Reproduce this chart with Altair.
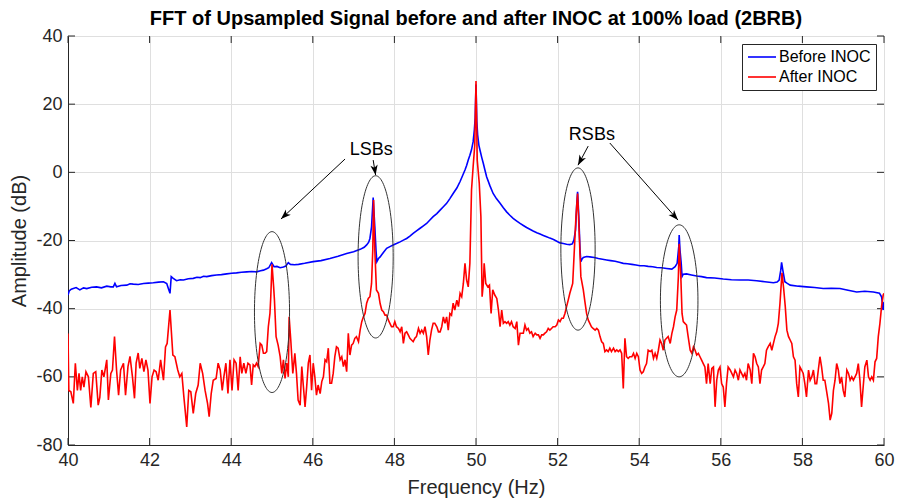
import math
import numpy as np
import pandas as pd
import altair as alt

# ---------------- data ----------------
blue_f = [40.00, 40.03, 40.08, 40.13, 40.20, 40.29, 40.38, 40.46, 40.58, 40.70, 40.82, 40.95, 41.05, 41.11,
          41.15, 41.19, 41.30, 41.44, 41.52, 41.60, 41.72, 41.85, 41.97, 42.09, 42.22, 42.34, 42.42, 42.46,
          42.50, 42.53, 42.58, 42.66, 42.75, 42.83, 42.95, 43.07, 43.16, 43.24, 43.32, 43.40, 43.52, 43.64,
          43.76, 43.89, 44.01, 44.13, 44.25, 44.38, 44.50, 44.62, 44.72, 44.79, 44.87, 44.92, 44.99, 45.05,
          45.12, 45.20, 45.28, 45.34, 45.40, 45.45, 45.55, 45.65, 45.80, 46.01, 46.20, 46.42, 46.62, 46.83,
          47.00, 47.16, 47.26, 47.32, 47.37, 47.40, 47.44, 47.48, 47.52, 47.55, 47.57, 47.61, 47.65, 47.73,
          47.81, 47.89, 47.97, 48.05, 48.14, 48.22, 48.30, 48.38, 48.46, 48.55, 48.63, 48.71, 48.79, 48.87,
          48.95, 49.04, 49.12, 49.20, 49.28, 49.36, 49.44, 49.53, 49.61, 49.67, 49.73, 49.77, 49.81, 49.85,
          49.89, 49.93, 49.96, 49.98, 50.00, 50.02, 50.04, 50.07, 50.10, 50.14, 50.18, 50.22, 50.26, 50.34,
          50.42, 50.50, 50.59, 50.67, 50.75, 50.83, 50.91, 51.00, 51.08, 51.16, 51.24, 51.32, 51.40, 51.49,
          51.57, 51.65, 51.73, 51.81, 51.90, 51.98, 52.06, 52.14, 52.22, 52.30, 52.36, 52.40, 52.44, 52.47,
          52.49, 52.52, 52.55, 52.57, 52.60, 52.63, 52.71, 52.79, 52.90, 53.00, 53.10, 53.20, 53.30, 53.41,
          53.51, 53.61, 53.71, 53.82, 53.92, 54.02, 54.12, 54.22, 54.33, 54.43, 54.55, 54.67, 54.80, 54.88,
          54.93, 54.97, 54.98, 55.00, 55.03, 55.05, 55.08, 55.16, 55.28, 55.41, 55.53, 55.65, 55.85, 56.06,
          56.26, 56.47, 56.67, 56.88, 57.08, 57.29, 57.38, 57.43, 57.47, 57.49, 57.52, 57.57, 57.63, 57.70,
          57.90, 58.10, 58.30, 58.51, 58.71, 58.92, 59.12, 59.33, 59.53, 59.74, 59.89, 59.94, 59.98, 60.00]
blue_db = [-36.0, -34.8, -34.3, -34.1, -33.8, -34.5, -33.9, -34.1, -33.7, -33.6, -33.9, -33.4, -33.6, -33.6,
           -32.6, -33.6, -33.2, -33.1, -32.7, -32.8, -32.9, -32.6, -32.5, -32.4, -32.2, -32.1, -32.6, -34.1,
           -35.5, -30.6, -31.1, -31.8, -31.5, -31.6, -31.2, -31.1, -30.8, -30.9, -30.5, -30.6, -30.3, -30.1,
           -30.0, -29.8, -29.6, -29.5, -29.3, -29.2, -29.1, -29.2, -28.9, -28.7, -28.3, -28.0, -26.5, -27.7,
           -27.6, -28.0, -27.8, -27.5, -26.5, -27.0, -27.1, -27.0, -26.7, -26.2, -25.9, -25.3, -24.6, -23.8,
           -23.3, -22.6, -22.0, -21.3, -20.5, -19.4, -16.0, -7.4, -16.0, -23.0, -26.2, -25.3, -24.8, -23.5,
           -22.3, -21.8, -21.3, -20.9, -20.4, -19.9, -19.4, -18.7, -17.9, -17.1, -16.4, -15.7, -15.0, -14.0,
           -13.0, -12.1, -11.1, -10.1, -9.1, -7.7, -6.2, -4.6, -2.7, -1.0, 0.7, 2.0, 3.6, 5.0,
           6.6, 9.0, 12.5, 16.0, 25.8, 15.0, 11.0, 8.0, 6.4, 4.4, 2.6, 0.6, -1.3, -3.9,
           -6.2, -7.7, -9.1, -10.4, -11.6, -12.6, -13.5, -14.3, -15.0, -15.6, -16.2, -16.7, -17.2, -17.7,
           -18.1, -18.5, -18.9, -19.3, -19.7, -20.2, -20.7, -20.9, -21.1, -21.2, -21.0, -19.9, -16.9, -9.1,
           -5.7, -13.0, -22.8, -26.2, -25.4, -25.0, -24.7, -24.8, -25.0, -25.3, -25.5, -25.7, -25.9, -26.1,
           -26.4, -26.7, -26.8, -27.0, -27.2, -27.4, -27.4, -27.6, -27.7, -27.9, -28.0, -28.2, -28.4, -27.7,
           -26.7, -21.8, -18.4, -22.8, -26.7, -30.6, -29.9, -29.8, -30.1, -30.4, -30.6, -30.9, -31.0, -31.3,
           -31.5, -31.6, -31.6, -31.8, -32.1, -32.4, -32.2, -31.6, -28.7, -26.4, -28.7, -32.1, -32.6, -33.1,
           -33.4, -33.6, -33.8, -34.1, -34.0, -34.1, -34.6, -35.1, -34.9, -35.1, -35.5, -36.5, -40.4, -38.0]

red_f = [40.00, 40.02, 40.07, 40.13, 40.18, 40.23, 40.27, 40.31, 40.35, 40.39, 40.44, 40.50, 40.56, 40.62,
         40.68, 40.74, 40.78, 40.83, 40.88, 40.95, 40.99, 41.05, 41.09, 41.14, 41.19, 41.24, 41.29, 41.36,
         41.41, 41.47, 41.52, 41.58, 41.63, 41.67, 41.72, 41.76, 41.81, 41.86, 41.91, 41.96, 42.01, 42.06,
         42.11, 42.16, 42.21, 42.27, 42.34, 42.39, 42.43, 42.50, 42.57, 42.62, 42.69, 42.74, 42.79, 42.84,
         42.91, 42.96, 43.01, 43.07, 43.13, 43.19, 43.24, 43.30, 43.36, 43.42, 43.46, 43.51, 43.56, 43.63,
         43.68, 43.73, 43.78, 43.82, 43.87, 43.92, 43.97, 44.02, 44.07, 44.12, 44.17, 44.22, 44.26, 44.31,
         44.36, 44.41, 44.46, 44.50, 44.54, 44.58, 44.62, 44.66, 44.71, 44.75, 44.79, 44.83, 44.87, 44.91,
         44.95, 44.97, 45.00, 45.04, 45.06, 45.10, 45.15, 45.20, 45.24, 45.28, 45.32, 45.36, 45.40, 45.42,
         45.46, 45.51, 45.56, 45.60, 45.64, 45.69, 45.73, 45.77, 45.81, 45.85, 45.89, 45.93, 45.97, 46.01,
         46.05, 46.09, 46.13, 46.18, 46.22, 46.26, 46.30, 46.34, 46.38, 46.42, 46.46, 46.50, 46.54, 46.58,
         46.62, 46.67, 46.71, 46.75, 46.79, 46.83, 46.87, 46.91, 46.95, 46.99, 47.03, 47.07, 47.12, 47.16,
         47.20, 47.24, 47.28, 47.32, 47.36, 47.40, 47.44, 47.47, 47.49, 47.52, 47.56, 47.61, 47.65, 47.69,
         47.73, 47.77, 47.81, 47.85, 47.89, 47.93, 47.97, 48.01, 48.05, 48.10, 48.14, 48.18, 48.22, 48.26,
         48.30, 48.34, 48.38, 48.42, 48.46, 48.50, 48.54, 48.59, 48.63, 48.67, 48.71, 48.75, 48.79, 48.83,
         48.87, 48.91, 48.95, 48.99, 49.04, 49.08, 49.12, 49.16, 49.20, 49.24, 49.28, 49.32, 49.36, 49.40,
         49.44, 49.48, 49.53, 49.57, 49.61, 49.65, 49.69, 49.73, 49.77, 49.81, 49.85, 49.89, 49.93, 49.97,
         50.00, 50.03, 50.08, 50.12, 50.15, 50.18, 50.20, 50.24, 50.29, 50.33, 50.37, 50.41, 50.46, 50.51,
         50.55, 50.59, 50.63, 50.67, 50.71, 50.75, 50.79, 50.83, 50.87, 50.91, 50.96, 51.00, 51.04, 51.08,
         51.12, 51.16, 51.20, 51.24, 51.28, 51.32, 51.36, 51.40, 51.45, 51.49, 51.53, 51.57, 51.61, 51.65,
         51.69, 51.73, 51.77, 51.81, 51.85, 51.89, 51.94, 51.98, 52.02, 52.06, 52.10, 52.14, 52.18, 52.22,
         52.26, 52.30, 52.37, 52.41, 52.45, 52.49, 52.53, 52.57, 52.63, 52.67, 52.71, 52.75, 52.79, 52.83,
         52.87, 52.92, 52.96, 53.00, 53.04, 53.08, 53.12, 53.16, 53.20, 53.24, 53.28, 53.32, 53.37, 53.41,
         53.45, 53.49, 53.53, 53.57, 53.61, 53.65, 53.69, 53.73, 53.77, 53.82, 53.86, 53.90, 53.94, 53.98,
         54.02, 54.06, 54.10, 54.14, 54.18, 54.22, 54.27, 54.31, 54.35, 54.39, 54.43, 54.47, 54.51, 54.55,
         54.59, 54.63, 54.67, 54.71, 54.76, 54.80, 54.84, 54.88, 54.92, 54.96, 54.98, 55.02, 55.05, 55.08,
         55.12, 55.16, 55.20, 55.25, 55.29, 55.33, 55.37, 55.41, 55.45, 55.49, 55.53, 55.57, 55.61, 55.65,
         55.69, 55.74, 55.78, 55.82, 55.86, 55.90, 55.94, 55.98, 56.02, 56.06, 56.10, 56.14, 56.18, 56.23,
         56.27, 56.31, 56.35, 56.39, 56.43, 56.47, 56.51, 56.55, 56.59, 56.63, 56.67, 56.72, 56.76, 56.80,
         56.84, 56.88, 56.92, 56.96, 57.00, 57.04, 57.08, 57.12, 57.16, 57.21, 57.25, 57.29, 57.33, 57.37,
         57.41, 57.45, 57.50, 57.54, 57.58, 57.62, 57.66, 57.70, 57.74, 57.78, 57.82, 57.86, 57.90, 57.94,
         57.98, 58.02, 58.06, 58.10, 58.15, 58.19, 58.23, 58.27, 58.31, 58.35, 58.39, 58.43, 58.47, 58.51,
         58.55, 58.59, 58.64, 58.68, 58.72, 58.76, 58.80, 58.84, 58.88, 58.92, 58.96, 59.00, 59.04, 59.09,
         59.13, 59.17, 59.21, 59.25, 59.29, 59.33, 59.37, 59.41, 59.45, 59.49, 59.53, 59.58, 59.62, 59.66,
         59.70, 59.74, 59.78, 59.82, 59.86, 59.90, 59.94, 59.98, 60.00]
red_db = [-47.3, -64.0, -64.4, -67.8, -56.0, -64.0, -59.0, -64.0, -60.0, -63.0, -58.5, -60.0, -69.0, -59.0,
          -58.5, -68.3, -66.0, -58.0, -60.0, -55.0, -66.8, -59.0, -58.0, -48.2, -58.0, -65.4, -58.0, -56.0,
          -65.4, -57.0, -54.0, -60.0, -66.3, -56.0, -53.0, -57.5, -54.6, -58.5, -55.0, -58.0, -67.8, -60.0,
          -58.0, -58.5, -61.0, -55.0, -61.0, -51.2, -50.2, -40.4, -53.6, -54.1, -58.0, -60.0, -59.0, -65.9,
          -74.7, -64.0, -64.4, -70.7, -64.9, -62.4, -56.0, -59.0, -64.0, -67.8, -71.7, -64.9, -61.0, -60.5,
          -56.0, -58.0, -64.0, -60.0, -56.0, -64.9, -55.0, -64.0, -55.0, -56.0, -64.0, -54.1, -59.0, -56.0,
          -59.0, -56.0, -56.5, -62.4, -56.5, -57.0, -56.0, -57.0, -50.2, -50.7, -53.1, -53.1, -52.6, -45.3,
          -41.4, -36.5, -27.0, -33.6, -37.5, -48.2, -50.7, -54.1, -59.0, -55.0, -60.5, -56.0, -60.0, -42.4,
          -49.2, -59.0, -53.1, -59.0, -66.8, -68.3, -57.0, -62.9, -68.8, -62.9, -56.0, -53.6, -63.9, -56.0,
          -60.0, -65.4, -62.4, -64.9, -61.4, -60.0, -55.0, -55.6, -51.6, -61.9, -61.9, -59.0, -54.1, -51.2,
          -51.6, -55.0, -54.1, -57.0, -55.0, -58.5, -47.2, -53.6, -50.7, -50.2, -48.7, -48.2, -49.7, -46.3,
          -43.8, -42.4, -41.4, -38.4, -37.0, -36.5, -32.6, -22.8, -8.1, -22.8, -34.5, -35.5, -38.5, -40.4,
          -40.9, -41.9, -41.9, -43.3, -44.3, -45.3, -45.3, -43.8, -45.3, -45.8, -46.8, -45.3, -50.2, -47.2,
          -46.8, -47.7, -48.7, -49.2, -49.7, -48.7, -48.2, -45.8, -47.2, -46.3, -47.2, -45.3, -48.2, -53.6,
          -49.2, -46.3, -44.3, -44.3, -45.3, -46.8, -46.8, -45.3, -42.4, -44.3, -42.4, -46.3, -41.4, -41.9,
          -38.4, -40.4, -37.5, -39.4, -35.5, -36.5, -32.6, -26.7, -31.6, -33.6, -26.7, -5.2, 1.7, 8.0,
          26.8, 3.6, -3.2, -13.0, -36.5, -32.6, -26.7, -32.6, -33.6, -33.1, -41.4, -34.5, -36.0, -37.0,
          -40.4, -45.3, -40.4, -44.3, -43.8, -44.3, -43.8, -44.8, -43.8, -45.3, -45.8, -43.8, -50.7, -47.2,
          -47.2, -47.2, -44.8, -46.3, -45.8, -47.2, -46.8, -48.2, -47.2, -47.7, -47.7, -48.7, -47.7, -47.7,
          -47.2, -46.8, -45.8, -46.3, -45.8, -45.3, -45.3, -44.8, -43.3, -43.8, -42.8, -42.8, -41.4, -39.4,
          -37.5, -35.5, -32.6, -22.8, -13.0, -6.2, -17.9, -30.6, -34.5, -38.0, -41.4, -43.3, -44.3, -45.3,
          -45.8, -46.3, -45.8, -46.3, -48.2, -49.7, -50.2, -52.6, -52.1, -52.6, -51.6, -52.6, -51.6, -52.6,
          -52.1, -52.6, -52.1, -53.1, -63.4, -48.7, -54.1, -54.6, -54.1, -54.1, -53.1, -54.6, -53.1, -54.1,
          -58.0, -59.0, -58.5, -57.1, -56.1, -52.2, -52.6, -52.2, -54.6, -53.1, -54.6, -52.2, -49.2, -50.2,
          -52.2, -49.2, -48.7, -48.2, -50.2, -47.3, -45.3, -42.4, -40.4, -30.6, -21.0, -30.6, -41.4, -43.8,
          -44.3, -44.8, -48.2, -52.2, -53.1, -51.2, -52.2, -53.6, -53.1, -54.1, -55.1, -56.1, -57.1, -62.0,
          -56.1, -62.0, -57.5, -57.1, -68.8, -61.0, -58.0, -57.1, -62.0, -63.0, -68.8, -62.0, -57.1, -58.0,
          -59.0, -60.0, -58.0, -59.0, -61.0, -58.0, -59.0, -60.0, -59.0, -61.0, -56.1, -58.0, -62.0, -53.1,
          -54.1, -56.1, -57.1, -62.0, -58.0, -57.1, -56.1, -52.2, -51.2, -50.2, -52.2, -50.2, -48.2, -46.8,
          -44.3, -38.5, -29.5, -34.0, -39.4, -46.3, -48.2, -49.2, -50.2, -54.1, -55.1, -62.0, -65.9, -57.1,
          -58.0, -59.0, -62.0, -65.9, -58.0, -61.0, -60.0, -58.0, -62.0, -62.0, -58.0, -54.1, -57.1, -61.0,
          -61.0, -64.0, -67.8, -72.7, -70.7, -64.0, -61.0, -56.1, -58.0, -62.0, -60.0, -64.0, -65.9, -58.0,
          -59.0, -61.0, -60.0, -61.0, -60.0, -59.0, -56.1, -61.0, -68.8, -62.9, -57.1, -55.1, -60.0, -61.0,
          -60.0, -61.0, -55.6, -54.6, -48.2, -44.3, -39.4, -36.0, -35.5]

series_names = ["Before INOC", "After INOC"]
series_colors = ["#0000ff", "#ff0000"]

x_ticks = list(range(40, 61, 2))
y_ticks = list(range(-80, 41, 20))

# annotation geometry (ellipses around sidebands, arrows, labels)
ell_cx = [45.0, 47.54, 52.5, 54.98]
ell_cy = [-41.0, -24.8, -22.5, -37.7]
ell_rx = [0.43, 0.43, 0.42, 0.46]
ell_ry = [23.6, 23.8, 23.8, 22.3]

arr_x1 = [46.79, 47.48, 52.75, 53.28]
arr_y1 = [3.9, 3.6, 7.7, 8.6]
arr_x2 = [45.22, 47.54, 52.50, 54.95]
arr_y2 = [-13.7, -0.8, 2.1, -14.0]

lbl_text = ["LSBs", "RSBs"]
lbl_x = [47.43, 52.84]
lbl_y = [6.5, 11.0]

# ---------------- layout ----------------
W, H = 816, 409
X_DOM = [40, 60]
Y_DOM = [-80, 40]
FONT = "Liberation Sans"
AX = "#262626"

xs = alt.Scale(domain=X_DOM, nice=False, zero=False)
ys = alt.Scale(domain=Y_DOM, nice=False, zero=False)
cs = alt.Scale(domain=series_names, range=series_colors)

blue_df = pd.DataFrame({"f": blue_f, "db": blue_db, "s": series_names[0]})
red_df = pd.DataFrame({"f": red_f, "db": red_db, "s": series_names[1]})

legend = alt.Legend(title=None, orient="none", legendX=674, legendY=8,
                    labelFont=FONT, labelFontSize=16, labelColor="#000000",
                    symbolType="M-1,0L3,0", symbolSize=196, symbolStrokeWidth=1.6,
                    strokeColor=AX, fillColor="#ffffff", padding=5,
                    labelOffset=16, rowPadding=4, labelLimit=300)

x_axis = alt.Axis(values=x_ticks, title="Frequency (Hz)", labelExpr="'' + datum.value",
                  labelFont=FONT, labelFontSize=18, labelColor=AX,
                  titleFont=FONT, titleFontSize=20, titleFontWeight="normal", titleColor=AX,
                  grid=True, gridColor="#dfdfdf", domainColor=AX, ticks=False, tickSize=0,
                  labelPadding=6, titlePadding=8, labelFlush=False)
y_axis = alt.Axis(values=y_ticks, title="Amplitude (dB)", labelExpr="'' + datum.value",
                  labelFont=FONT, labelFontSize=18, labelColor=AX,
                  titleFont=FONT, titleFontSize=20, titleFontWeight="normal", titleColor=AX,
                  grid=True, gridColor="#dfdfdf", domainColor=AX, ticks=False, tickSize=0,
                  labelPadding=6, titlePadding=6, labelFlush=False)

blue_line = alt.Chart(blue_df).mark_line(strokeWidth=1.6, clip=True).encode(
    x=alt.X("f:Q", scale=xs, axis=x_axis),
    y=alt.Y("db:Q", scale=ys, axis=y_axis),
    color=alt.Color("s:N", scale=cs, legend=legend),
)
red_line = alt.Chart(red_df).mark_line(strokeWidth=1.6, clip=True).encode(
    x=alt.X("f:Q", scale=xs),
    y=alt.Y("db:Q", scale=ys),
    color=alt.Color("s:N", scale=cs, legend=legend),
)

# ellipses
t = np.linspace(0, 2 * np.pi, 121)
rows = []
for i in range(len(ell_cx)):
    for k, tt in enumerate(t):
        rows.append({"id": i, "k": k,
                     "x": ell_cx[i] + ell_rx[i] * math.cos(tt),
                     "y": ell_cy[i] + ell_ry[i] * math.sin(tt)})
ell_df = pd.DataFrame(rows)
ellipses = alt.Chart(ell_df).mark_line(color="#333333", strokeWidth=1).encode(
    x=alt.X("x:Q", scale=xs), y=alt.Y("y:Q", scale=ys),
    detail="id:N", order="k:Q")

# arrows
pxx = W / (X_DOM[1] - X_DOM[0])
pxy = H / (Y_DOM[1] - Y_DOM[0])
angs = []
for i in range(len(arr_x1)):
    dx = (arr_x2[i] - arr_x1[i]) * pxx
    dys = -(arr_y2[i] - arr_y1[i]) * pxy
    angs.append(math.degrees(math.atan2(dx, -dys)) % 360)
arr_df = pd.DataFrame({"x1": arr_x1, "y1": arr_y1, "x2": arr_x2, "y2": arr_y2, "ang": angs})
arrow_lines = alt.Chart(arr_df).mark_rule(color="#000000", strokeWidth=1).encode(
    x=alt.X("x1:Q", scale=xs), y=alt.Y("y1:Q", scale=ys), x2="x2:Q", y2="y2:Q")
heads = alt.Chart(arr_df).mark_point(
    shape="M0,0L0.62,1.7L0,1.25L-0.62,1.7Z", filled=True, color="#000000",
    opacity=1, size=140).encode(
    x=alt.X("x2:Q", scale=xs), y=alt.Y("y2:Q", scale=ys),
    angle=alt.Angle("ang:Q", scale=None))

lbl_df = pd.DataFrame({"t": lbl_text, "x": lbl_x, "y": lbl_y})
labels = alt.Chart(lbl_df).mark_text(font=FONT, fontSize=18, color="#000000",
                                     align="center", baseline="middle").encode(
    x=alt.X("x:Q", scale=xs), y=alt.Y("y:Q", scale=ys), text="t:N")

# inward ticks (MATLAB style box)
xt_df = pd.DataFrame({"v": x_ticks})
yt_df = pd.DataFrame({"v": y_ticks})
tl = 7
tick_bot = alt.Chart(xt_df).mark_rule(color=AX, strokeWidth=1).encode(
    x=alt.X("v:Q", scale=xs), y=alt.value(H), y2=alt.value(H - tl))
tick_top = alt.Chart(xt_df).mark_rule(color=AX, strokeWidth=1).encode(
    x=alt.X("v:Q", scale=xs), y=alt.value(0), y2=alt.value(tl))
tick_left = alt.Chart(yt_df).mark_rule(color=AX, strokeWidth=1).encode(
    y=alt.Y("v:Q", scale=ys), x=alt.value(0), x2=alt.value(tl))
tick_right = alt.Chart(yt_df).mark_rule(color=AX, strokeWidth=1).encode(
    y=alt.Y("v:Q", scale=ys), x=alt.value(W), x2=alt.value(W - tl))

chart = alt.layer(
    tick_bot, tick_top, tick_left, tick_right,
    blue_line, red_line, ellipses, arrow_lines, heads, labels
).properties(
    width=W, height=H,
    title=alt.TitleParams("FFT of Upsampled Signal before and after INOC at 100% load (2BRB)",
                          font=FONT, fontSize=20, fontWeight="bold", color="#000000",
                          anchor="middle", baseline="bottom", offset=5, dy=27),
    padding={"left": 68, "top": 36, "right": 13, "bottom": 59},
    autosize=alt.AutoSizeParams(type="none"),
).configure_view(stroke=AX, strokeWidth=1).configure(background="#ffffff")

chart.save("out.html", embed_options={"renderer": "svg", "actions": False})
